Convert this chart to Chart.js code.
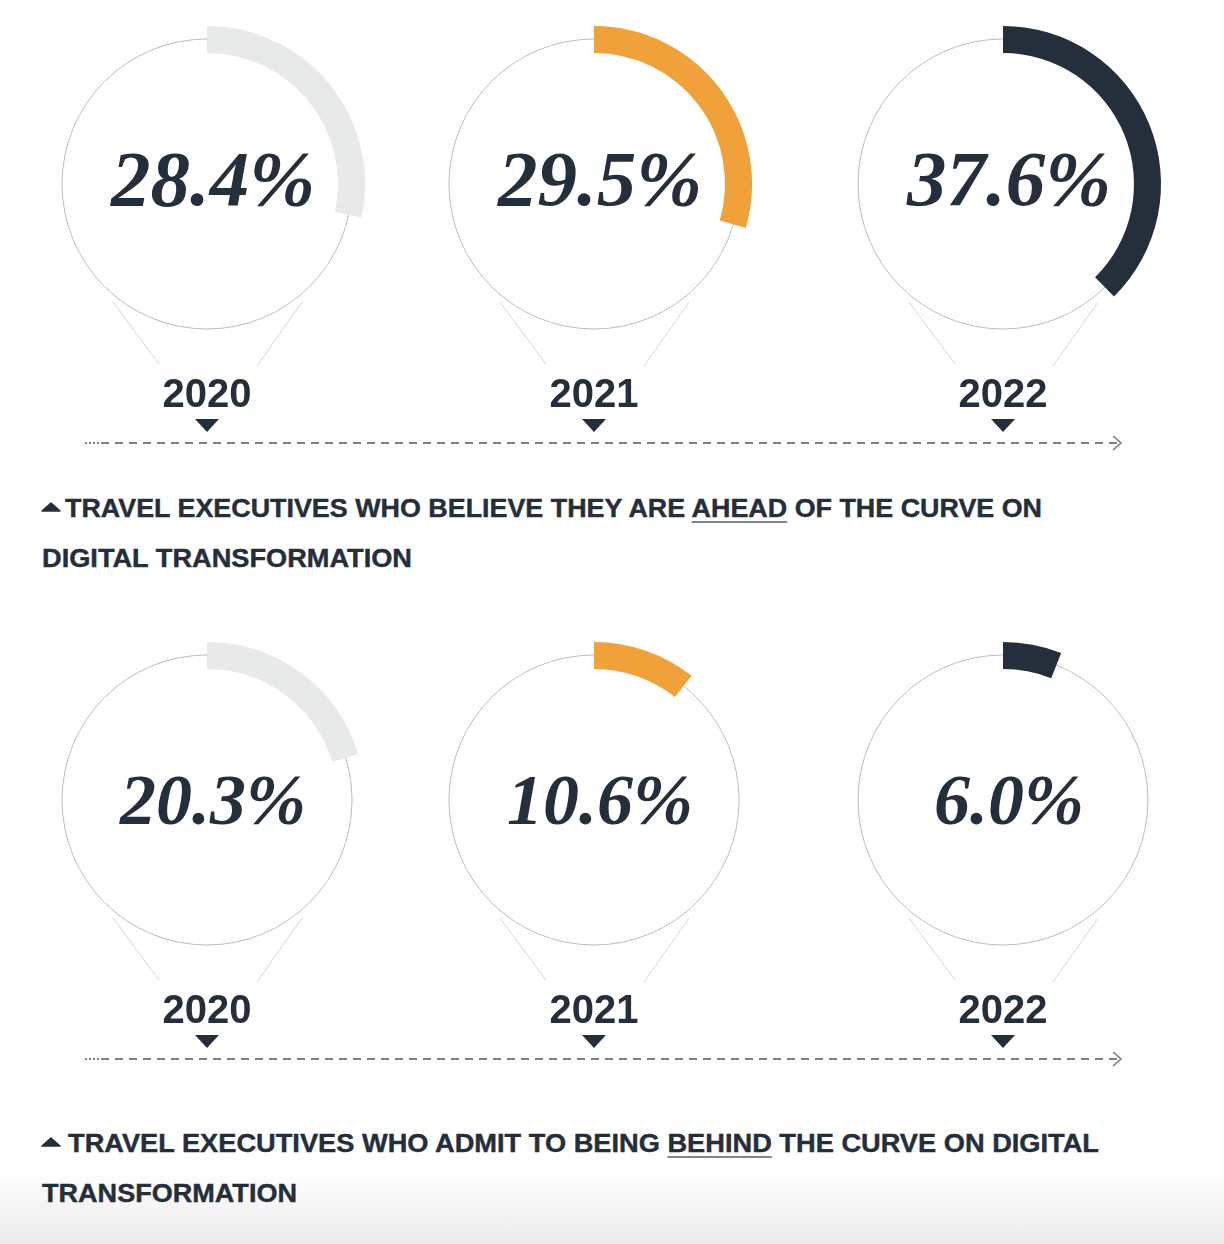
<!DOCTYPE html>
<html>
<head>
<meta charset="utf-8">
<script src="https://cdn.jsdelivr.net/npm/chart.js@4.4.1/dist/chart.umd.min.js"></script>
<style>
  html, body { margin:0; padding:0; }
  body { width:1224px; height:1244px; position:relative; overflow:hidden;
         background: linear-gradient(to bottom, #ffffff 0px, #ffffff 1170px, #ebebeb 1244px); }
  .cv { position:absolute; }
  .pct { position:absolute; width:400px; text-align:center; font-family:"Liberation Serif", serif;
         font-weight:bold; font-style:italic; color:#252e3b; white-space:nowrap; }
  .yr { position:absolute; width:200px; text-align:center; font-family:"Liberation Sans", Arial, sans-serif;
        font-weight:bold; font-size:40px; line-height:40px; color:#252e3b; }
  .cap { position:absolute; font-family:"Liberation Sans", Arial, sans-serif; font-weight:bold;
         font-size:25px; line-height:50px; color:#252e3b; white-space:nowrap; transform-origin:0 50%;
         -webkit-text-stroke:0.4px #252e3b; }
  .cap u { text-decoration-color:#80858e; text-decoration-thickness:2px; text-underline-offset:4px; }
  svg.ov { position:absolute; left:0; top:0; }
</style>
</head>
<body>
<script>
// ---- data ----
const years = ['2020', '2021', '2022'];
const aheadValues = [28.4, 29.5, 37.6];
const behindValues = [20.3, 10.6, 6.0];
const yearColors = ['#e8eaea', '#f0a13a', '#252e3b'];
const captionAhead = ['TRAVEL EXECUTIVES WHO BELIEVE THEY ARE ', 'AHEAD', ' OF THE CURVE ON', 'DIGITAL TRANSFORMATION'];
const captionBehind = ['TRAVEL EXECUTIVES WHO ADMIT TO BEING ', 'BEHIND', ' THE CURVE ON DIGITAL', 'TRANSFORMATION'];

// ---- layout ----
const colX = [207, 594, 1003];
const rows = [
  { cy: 184, values: aheadValues, pctSize: 79, caption: captionAhead, capTop: 483, w1: 977, w2: 370 },
  { cy: 800, values: behindValues, pctSize: 72, caption: captionBehind, capTop: 1118, w1: 1031, w2: 255 }
];
const SZ = 400;

const decor = {
  id: 'decor',
  beforeDatasetsDraw(chart) {
    const el = chart.getDatasetMeta(0).data[0];
    const x = el.x, y = el.y, c = chart.ctx;
    c.save();
    c.strokeStyle = '#bdbdbd';
    c.lineWidth = 1;
    c.beginPath(); c.arc(x, y, 145, 0, Math.PI * 2); c.stroke();
    c.strokeStyle = '#d6d6d6';
    c.beginPath();
    c.moveTo(x - 94, y + 118); c.lineTo(x - 48, y + 180);
    c.moveTo(x + 95, y + 118); c.lineTo(x + 50, y + 182);
    c.stroke();
    c.restore();
  }
};

const svgNS = 'http://www.w3.org/2000/svg';
const svg = document.createElementNS(svgNS, 'svg');
svg.setAttribute('class', 'ov');
svg.setAttribute('width', 1224);
svg.setAttribute('height', 1244);
document.body.appendChild(svg);
function sv(tag, attrs) { const e = document.createElementNS(svgNS, tag); for (const k in attrs) e.setAttribute(k, attrs[k]); svg.appendChild(e); return e; }

const fits = [];
rows.forEach((row, ri) => {
  row.values.forEach((v, i) => {
    const cx = colX[i], cy = row.cy;
    const cv = document.createElement('canvas');
    cv.className = 'cv';
    cv.width = SZ; cv.height = SZ;
    cv.style.left = (cx - SZ / 2) + 'px';
    cv.style.top = (cy - SZ / 2) + 'px';
    cv.style.width = SZ + 'px'; cv.style.height = SZ + 'px';
    document.body.appendChild(cv);
    new Chart(cv, {
      type: 'doughnut',
      data: { labels: [years[i], ''], datasets: [{
        data: [v, 100 - v],
        backgroundColor: [yearColors[i], 'rgba(0,0,0,0)'],
        borderWidth: 0
      }]},
      options: {
        responsive: false, animation: false, events: [],
        radius: 158,
        cutout: '82.9%',
        layout: { padding: 0 },
        plugins: { legend: { display: false }, tooltip: { enabled: false } }
      },
      plugins: [decor]
    });
    // percentage text
    const p = document.createElement('div');
    p.className = 'pct';
    p.style.fontSize = row.pctSize + 'px';
    p.style.lineHeight = row.pctSize + 'px';
    p.style.left = (cx - 200 + 6) + 'px';
    const base = cy + (ri === 0 ? 21 : 24);
    p.style.top = (base - row.pctSize * 0.838) + 'px';
    p.textContent = v.toFixed(1) + '%';
    document.body.appendChild(p);
    // year label
    const y = document.createElement('div');
    y.className = 'yr';
    y.style.left = (cx - 100) + 'px';
    y.style.top = (cy + 223 - 34) + 'px';
    y.textContent = years[i];
    document.body.appendChild(y);
    // down triangle
    sv('polygon', { points: `${cx - 12},${cy + 235} ${cx + 12},${cy + 235} ${cx},${cy + 248}`, fill: '#252e3b' });
  });
  // dashed timeline
  const ly = row.cy + 259;
  sv('line', { x1: 85, y1: ly, x2: 100, y2: ly, stroke: '#7a7f86', 'stroke-width': 2, 'stroke-dasharray': '2 2' });
  sv('line', { x1: 101, y1: ly, x2: 1120, y2: ly, stroke: '#7a7f86', 'stroke-width': 2, 'stroke-dasharray': '8 6' });
  sv('polyline', { points: `1113,${ly - 7} 1121,${ly} 1113,${ly + 7}`, fill: 'none', stroke: '#7a7f86', 'stroke-width': 1.6 });
  // caption up triangle
  const ty = row.capTop + 20;
  sv('path', { d: `M42,${ty + 8} L51,${ty} L60,${ty + 8} Z`, fill: '#252e3b', stroke: '#252e3b', 'stroke-width': 1.5, 'stroke-linejoin': 'round' });
  // caption lines
  const c1 = document.createElement('div');
  c1.className = 'cap';
  c1.style.left = (ri === 0 ? 65 : 68) + 'px';
  c1.style.top = row.capTop + 'px';
  c1.appendChild(document.createTextNode(row.caption[0]));
  const u = document.createElement('u'); u.textContent = row.caption[1]; c1.appendChild(u);
  c1.appendChild(document.createTextNode(row.caption[2]));
  document.body.appendChild(c1);
  const c2 = document.createElement('div');
  c2.className = 'cap';
  c2.style.left = '42px';
  c2.style.top = (row.capTop + 50) + 'px';
  c2.textContent = row.caption[3];
  document.body.appendChild(c2);
  fits.push([c1, row.w1], [c2, row.w2]);
});
fits.forEach(([el, w]) => {
  const nat = el.getBoundingClientRect().width;
  el.style.transform = `scaleX(${w / nat})`;
});
</script>
</body>
</html>
